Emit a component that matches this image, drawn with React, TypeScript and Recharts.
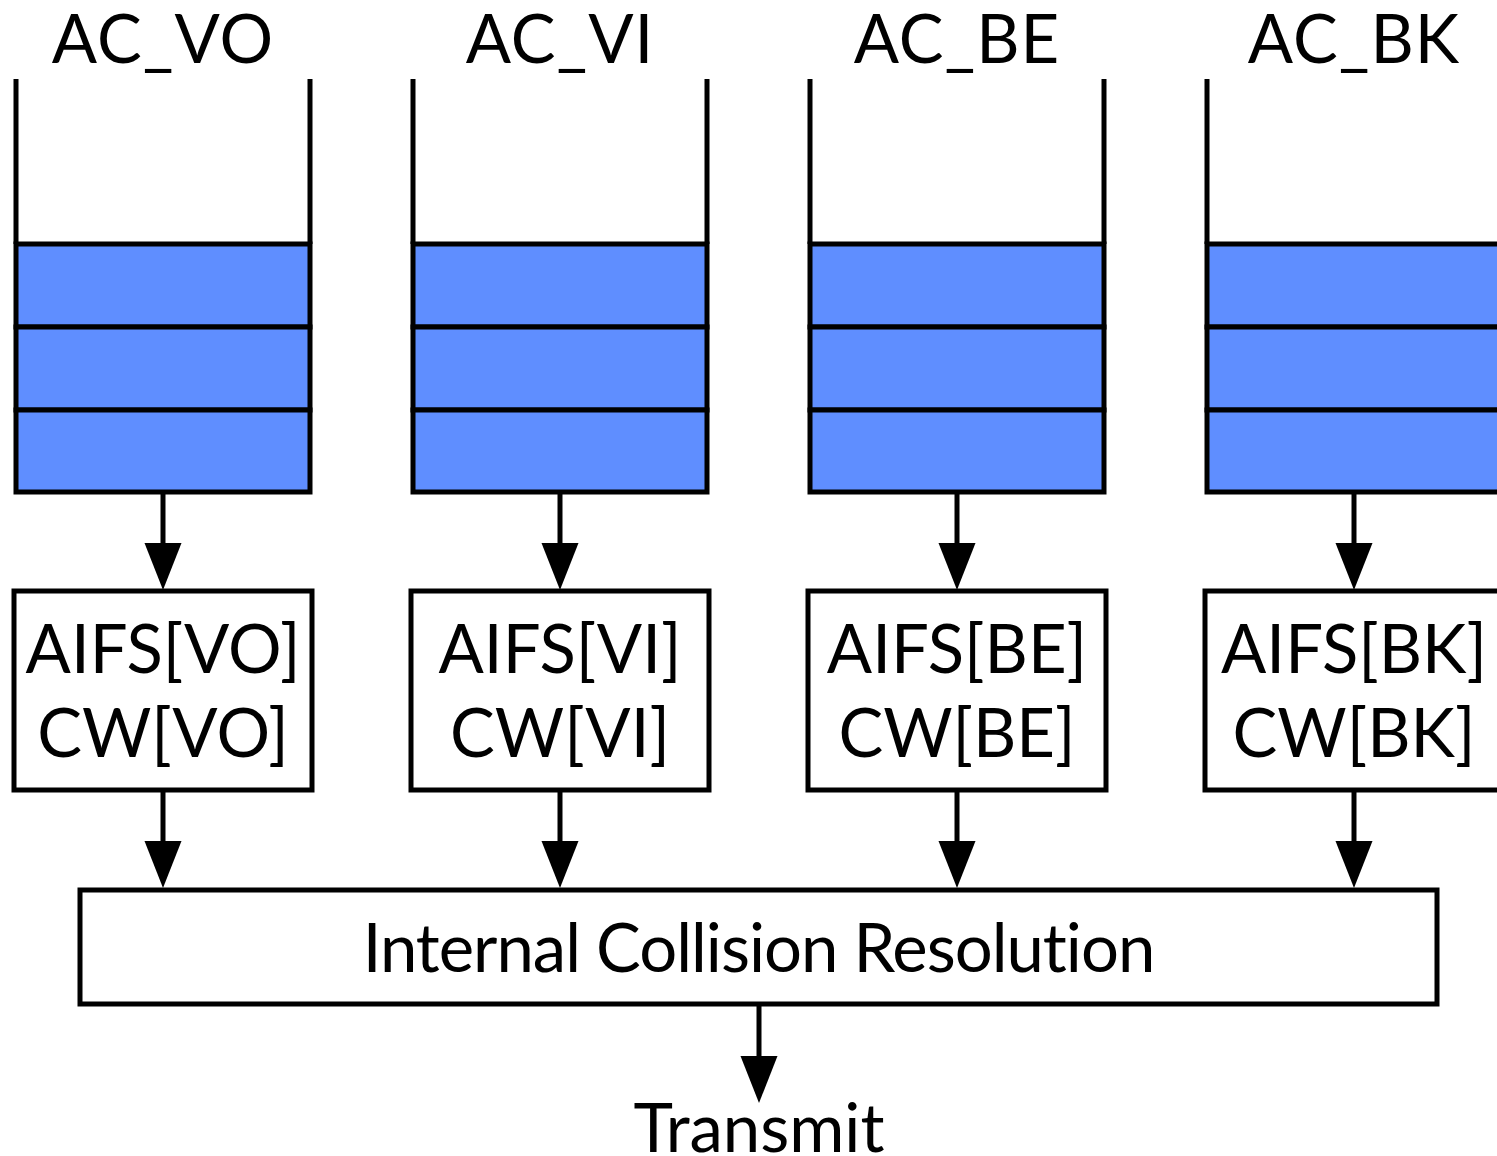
import {
  ComposedChart,
  ReferenceArea,
  ReferenceLine,
  Scatter,
  XAxis,
  YAxis,
} from "recharts";

// labels
const queueNames = ["AC_VO", "AC_VI", "AC_BE", "AC_BK"];
const classNames = ["VO", "VI", "BE", "BK"];
const resolverLabel = "Internal Collision Resolution";
const outputLabel = "Transmit";

// diagram layout, in diagram units (the axes map them 1:1 to pixels)
const columnX = [163, 560, 957, 1354];
const slotEdges = [244, 327, 410, 492];
const queueTop = 79;
const queueHalf = 147;
const boxHalf = 149;
const boxTop = 591;
const boxBottom = 790;
const resolver = { x1: 80, x2: 1437, y1: 890, y2: 1004 };
const outputX = 759;
const outputTip = 1103;

const W = 1497;
const H = 1156;
const LINE = 5;
const BLUE = "#5f8eff";
const FONT = "Lato, 'Open Sans', sans-serif";
const FONT_SIZE = 67;
const HEAD_LEN = 47;
const HEAD_HALF = 18.5;

type Pt = { x: number; y: number; text?: string; spacing?: number };

const arrowTips: Pt[] = [
  ...columnX.map((x) => ({ x, y: boxTop - 1 })),
  ...columnX.map((x) => ({ x, y: resolver.y1 - 2 })),
  { x: outputX, y: outputTip },
];

const labels: Pt[] = [
  ...queueNames.map((text, i) => ({ x: columnX[i], y: 63, text, spacing: 1 })),
  ...classNames.map((c, i) => ({ x: columnX[i], y: 673, text: `AIFS[${c}]` })),
  ...classNames.map((c, i) => ({ x: columnX[i], y: 757, text: `CW[${c}]` })),
  { x: (resolver.x1 + resolver.x2) / 2, y: 972, text: resolverLabel, spacing: -1 },
  { x: outputX, y: 1152, text: outputLabel },
];

function ArrowHead(props: any) {
  const { cx, cy } = props;
  return (
    <polygon
      points={`${cx - HEAD_HALF},${cy - HEAD_LEN} ${cx + HEAD_HALF},${cy - HEAD_LEN} ${cx},${cy}`}
      fill="#000"
    />
  );
}

function TextMark(props: any) {
  const { cx, cy, payload } = props;
  return (
    <text
      x={cx}
      y={cy}
      textAnchor="middle"
      fontFamily={FONT}
      fontSize={FONT_SIZE}
      letterSpacing={payload.spacing ?? 0}
      style={{ fontVariantLigatures: "none" }}
      fill="#000"
    >
      {payload.text}
    </text>
  );
}

export default function App() {
  return (
    <div style={{ position: "absolute", left: 0, top: 0, background: "#fff" }}>
      <ComposedChart width={W} height={H} margin={{ top: 0, right: 0, bottom: 0, left: 0 }}>
        <XAxis type="number" dataKey="x" domain={[0, W]} hide allowDataOverflow />
        <YAxis type="number" dataKey="y" domain={[0, H]} reversed hide allowDataOverflow />

        {/* queue walls */}
        {columnX.flatMap((x, i) =>
          [-queueHalf, queueHalf].map((d) => (
            <ReferenceLine
              key={`wall-${i}-${d}`}
              segment={[
                { x: x + d, y: queueTop },
                { x: x + d, y: slotEdges[0] },
              ]}
              stroke="#000"
              strokeWidth={LINE}
              ifOverflow="visible"
            />
          ))
        )}

        {/* queued frames */}
        {columnX.flatMap((x, i) =>
          slotEdges.slice(0, -1).map((y, j) => (
            <ReferenceArea
              key={`slot-${i}-${j}`}
              x1={x - queueHalf}
              x2={x + queueHalf}
              y1={y}
              y2={slotEdges[j + 1]}
              fill={BLUE}
              fillOpacity={1}
              stroke="#000"
              strokeWidth={LINE}
              ifOverflow="visible"
            />
          ))
        )}

        {/* AIFS / CW boxes */}
        {columnX.map((x, i) => (
          <ReferenceArea
            key={`box-${i}`}
            x1={x - boxHalf}
            x2={x + boxHalf}
            y1={boxTop}
            y2={boxBottom}
            fill="#fff"
            fillOpacity={1}
            stroke="#000"
            strokeWidth={LINE}
            ifOverflow="visible"
          />
        ))}

        <ReferenceArea
          x1={resolver.x1}
          x2={resolver.x2}
          y1={resolver.y1}
          y2={resolver.y2}
          fill="#fff"
          fillOpacity={1}
          stroke="#000"
          strokeWidth={LINE}
        />

        {/* arrow shafts */}
        {columnX.map((x, i) => (
          <ReferenceLine
            key={`shaft-a-${i}`}
            segment={[
              { x, y: slotEdges[3] },
              { x, y: boxTop - 30 },
            ]}
            stroke="#000"
            strokeWidth={LINE}
          />
        ))}
        {columnX.map((x, i) => (
          <ReferenceLine
            key={`shaft-b-${i}`}
            segment={[
              { x, y: boxBottom },
              { x, y: resolver.y1 - 30 },
            ]}
            stroke="#000"
            strokeWidth={LINE}
          />
        ))}
        <ReferenceLine
          segment={[
            { x: outputX, y: resolver.y2 },
            { x: outputX, y: outputTip - 30 },
          ]}
          stroke="#000"
          strokeWidth={LINE}
        />

        <Scatter data={arrowTips} shape={ArrowHead} isAnimationActive={false} />
        <Scatter data={labels} shape={TextMark} isAnimationActive={false} />
      </ComposedChart>
    </div>
  );
}
